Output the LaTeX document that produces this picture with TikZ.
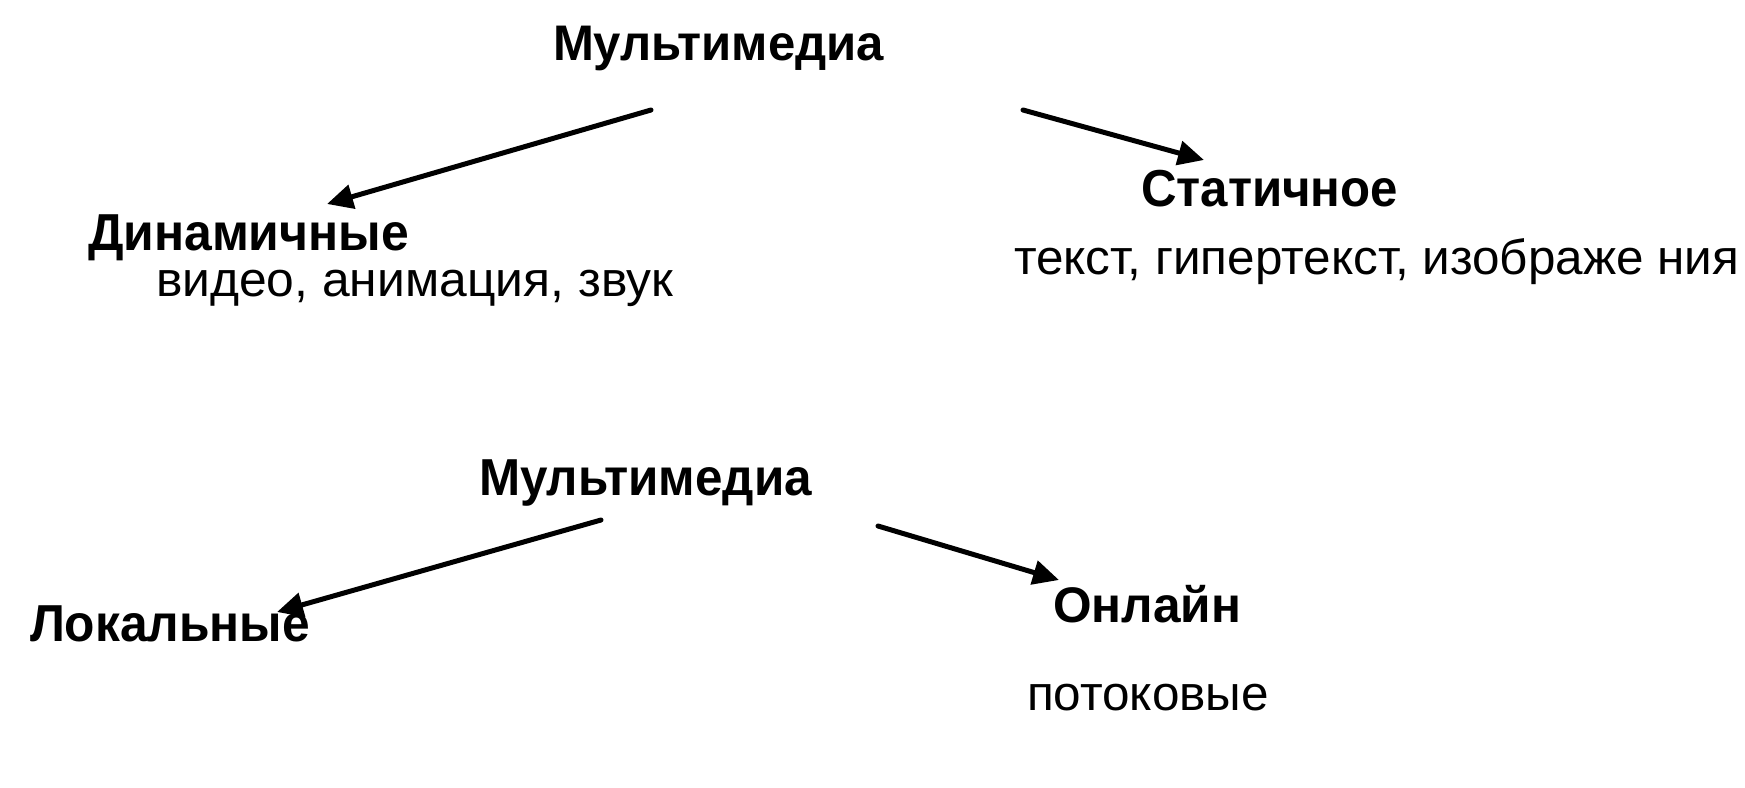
\documentclass[tikz,border=0pt]{standalone}
\usepackage{fontspec}
\setmainfont{Liberation Sans}
\usetikzlibrary{arrows.meta}
\newcommand{\fitw}[2]{\resizebox{#1pt}{\height}{#2}}
\tikzset{
  lbl/.style={inner sep=0pt, outer sep=0pt, anchor=base west},
  hd/.style={lbl, font=\fontsize{50}{60}\selectfont\bfseries},
  hdt/.style={lbl, font=\fontsize{52}{62}\selectfont\bfseries},
  sub/.style={lbl, font=\fontsize{49}{58}\selectfont},
  arr/.style={line width=5pt, line cap=round, -{Triangle[length=26pt,width=24pt]}}
}
\begin{document}
\begin{tikzpicture}[x=1pt,y=-1pt]
\useasboundingbox (0,0) rectangle (1745,787);
% top diagram
\node[hd] (m1) at (553,60) {\fitw{331}{Мультимедиа}};
\node[hdt] (dyn) at (88,250) {\fitw{321}{Динамичные}};
\node[sub] (dyns) at (156,296) {\fitw{517}{видео, анимация, звук}};
\node[hdt] (stat) at (1141,206) {\fitw{257}{Статичное}};
\node[sub] (stats) at (1014,274) {\fitw{725}{текст, гипертекст, изображе ния}};
\coordinate (a1s) at (651,110);
\coordinate (a1e) at (327,204);
\coordinate (a2s) at (1023,110);
\coordinate (a2e) at (1204,160);
\draw[arr] (a1s) -- (a1e);
\draw[arr] (a2s) -- (a2e);
% bottom diagram
\node[hdt] (m2) at (479,495) {\fitw{333}{Мультимедиа}};
\node[hdt] (loc) at (30,641) {\fitw{280}{Локальные}};
\node[hd] (onl) at (1053,622) {\fitw{188}{Онлайн}};
\node[sub] (onls) at (1027,710) {\fitw{242}{потоковые}};
\coordinate (a3s) at (601,520);
\coordinate (a3e) at (277,612);
\coordinate (a4s) at (878,526);
\coordinate (a4e) at (1059,580);
\draw[arr] (a3s) -- (a3e);
\draw[arr] (a4s) -- (a4e);
\end{tikzpicture}
\end{document}
